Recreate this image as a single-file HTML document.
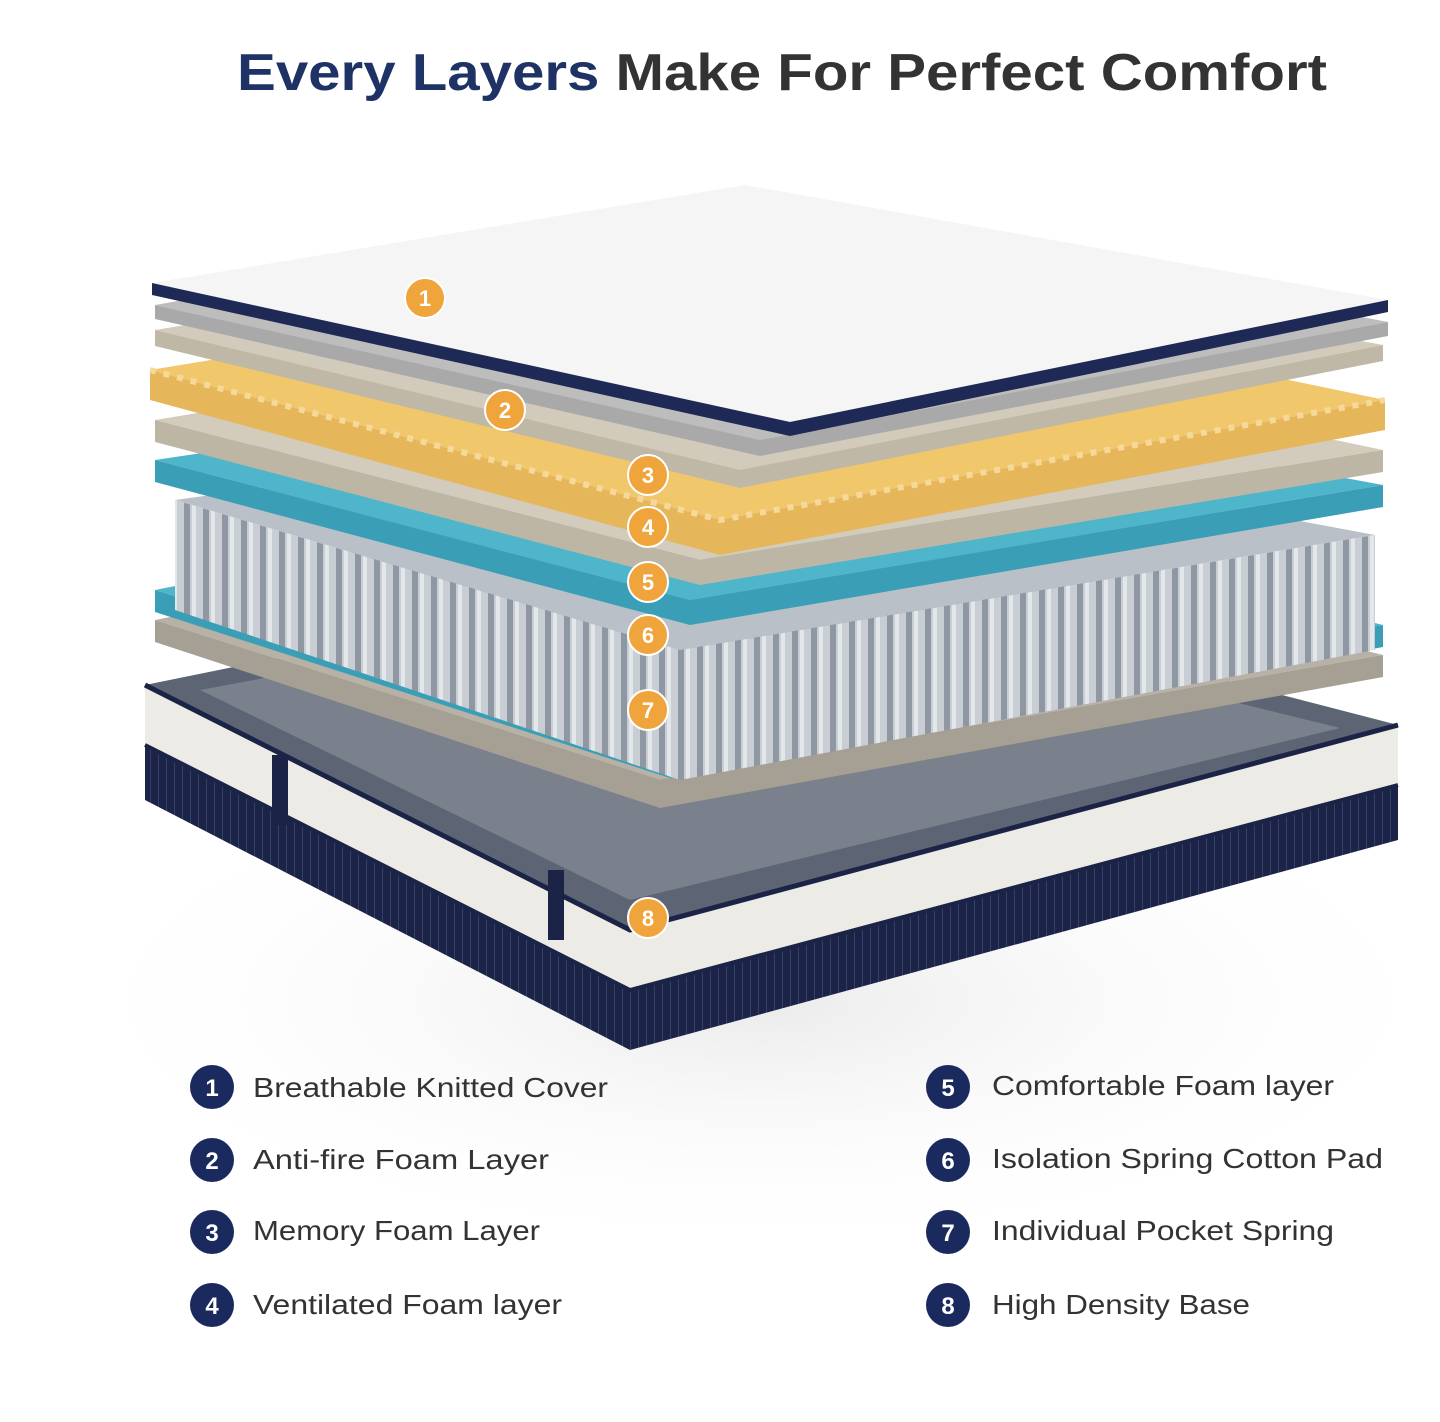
<!DOCTYPE html>
<html><head><meta charset="utf-8"><style>
html,body{margin:0;padding:0;background:#fff;}
svg{display:block;}
text{font-family:"Liberation Sans",sans-serif;}
</style></head><body>
<svg width="1440" height="1422" viewBox="0 0 1440 1422" xmlns="http://www.w3.org/2000/svg">
<defs>
<pattern id="spr" width="19" height="40" patternUnits="userSpaceOnUse">
<rect width="19" height="40" fill="#c9ced4"/>
<rect x="13" width="6" height="40" fill="#8f98a2"/>
<rect x="2" width="4" height="40" fill="#e4e7ea"/>
</pattern>
<pattern id="navy" width="8" height="10" patternUnits="userSpaceOnUse">
<rect width="8" height="10" fill="#1b2446"/><rect x="6" width="1" height="10" fill="#34406a"/>
</pattern>
<radialGradient id="sh" cx="0.5" cy="0.5" r="0.5"><stop offset="0" stop-color="#ddd"/><stop offset="1" stop-color="#fff" stop-opacity="0"/></radialGradient>
</defs>

<text x="782" y="90" text-anchor="middle" font-size="52" font-weight="bold" textLength="1090" lengthAdjust="spacingAndGlyphs"><tspan fill="#1e3266">Every Layers</tspan><tspan fill="#333"> Make For Perfect Comfort</tspan></text>

<ellipse cx="760" cy="1000" rx="720" ry="260" fill="url(#sh)" opacity="0.6"/>

<!-- base -->
<polygon points="145,685 760,560 1398,725 630,930" fill="#5d6474"/>
<polygon points="200,690 760,585 1340,728 630,900" fill="#7a808c"/>
<polygon points="145,685 630,930 1398,725 1398,840 630,1050 145,800" fill="#ecebe6"/>
<polygon points="145,745 630,990 1398,785 1398,840 630,1050 145,800" fill="url(#navy)"/>
<polyline points="145,685 630,930 1398,725" fill="none" stroke="#1b2446" stroke-width="5"/>
<polyline points="145,745 630,990 1398,785" fill="none" stroke="#1b2446" stroke-width="4"/>
<rect x="272" y="755" width="16" height="70" fill="#1b2446"/>
<rect x="548" y="870" width="16" height="70" fill="#1b2446"/>

<polygon points="155,620 760,500 1383,655 660,780" fill="#b7b1a6"/>
<polygon points="155,620 660,780 1383,655 1383,677 660,808 155,642" fill="#a59f94"/>
<polygon points="155,590 760,470 1383,625 670,750" fill="#4fb5cb"/>
<polygon points="155,590 670,750 1383,625 1383,647 670,778 155,612" fill="#3a9fb6"/>
<polygon points="175,500 760,420 1375,535 680,650" fill="#b9c0c7"/>
<polygon points="175,500 680,650 1375,535 1375,650 680,780 175,610" fill="url(#spr)"/>
<polygon points="155,460 760,370 1383,485 690,600" fill="#4fb5cb"/>
<polygon points="155,460 690,600 1383,485 1383,507 690,625 155,482" fill="#3a9fb6"/>
<polygon points="155,420 760,320 1383,450 700,560" fill="#d3ccbc"/>
<polygon points="155,420 700,560 1383,450 1383,472 700,585 155,442" fill="#bdb6a5"/>
<polygon points="150,370 760,270 1385,400 720,520" fill="#f1c76c"/>
<polygon points="150,370 720,520 1385,400 1385,430 720,555 150,400" fill="#e6b65a"/>
<polyline points="150,370 720,520 1385,400" fill="none" stroke="#f6d99a" stroke-width="6" stroke-dasharray="6 8"/>
<polygon points="155,330 760,230 1383,345 740,470" fill="#d2cbbb"/>
<polygon points="155,330 740,470 1383,345 1383,361 740,488 155,346" fill="#bfb8a7"/>
<polygon points="155,305 760,200 1388,322 760,440" fill="#bdbdbd"/>
<polygon points="155,305 760,440 1388,322 1388,336 760,456 155,319" fill="#a9a9a9"/>
<polygon points="152,283 745,185 1388,300 790,422" fill="#f5f5f5"/>
<polygon points="152,283 790,422 1388,300 1388,312 790,436 152,295" fill="#1e2a55"/>

<g font-size="22" font-weight="bold" fill="#fff" text-anchor="middle">
<g><circle cx="425" cy="298" r="20" fill="#f0a43c" stroke="#fff" stroke-width="2"/><text x="425" y="306">1</text></g>
<g><circle cx="505" cy="410" r="20" fill="#f0a43c" stroke="#fff" stroke-width="2"/><text x="505" y="418">2</text></g>
<g><circle cx="648" cy="475" r="20" fill="#f0a43c" stroke="#fff" stroke-width="2"/><text x="648" y="483">3</text></g>
<g><circle cx="648" cy="527" r="20" fill="#f0a43c" stroke="#fff" stroke-width="2"/><text x="648" y="535">4</text></g>
<g><circle cx="648" cy="582" r="20" fill="#f0a43c" stroke="#fff" stroke-width="2"/><text x="648" y="590">5</text></g>
<g><circle cx="648" cy="635" r="20" fill="#f0a43c" stroke="#fff" stroke-width="2"/><text x="648" y="643">6</text></g>
<g><circle cx="648" cy="710" r="20" fill="#f0a43c" stroke="#fff" stroke-width="2"/><text x="648" y="718">7</text></g>
<g><circle cx="648" cy="918" r="20" fill="#f0a43c" stroke="#fff" stroke-width="2"/><text x="648" y="926">8</text></g>
</g>

<g font-size="24" font-weight="bold" fill="#fff" text-anchor="middle">
<circle cx="212" cy="1087" r="22" fill="#1a2a5e"/><text x="212" y="1096">1</text>
<circle cx="212" cy="1160" r="22" fill="#1a2a5e"/><text x="212" y="1169">2</text>
<circle cx="212" cy="1232" r="22" fill="#1a2a5e"/><text x="212" y="1241">3</text>
<circle cx="212" cy="1305" r="22" fill="#1a2a5e"/><text x="212" y="1314">4</text>
<circle cx="948" cy="1087" r="22" fill="#1a2a5e"/><text x="948" y="1096">5</text>
<circle cx="948" cy="1160" r="22" fill="#1a2a5e"/><text x="948" y="1169">6</text>
<circle cx="948" cy="1232" r="22" fill="#1a2a5e"/><text x="948" y="1241">7</text>
<circle cx="948" cy="1305" r="22" fill="#1a2a5e"/><text x="948" y="1314">8</text>
</g>
<g font-size="28" fill="#333" lengthAdjust="spacingAndGlyphs">
<text x="253" y="1097" textLength="355" lengthAdjust="spacingAndGlyphs">Breathable Knitted Cover</text>
<text x="253" y="1169" textLength="296" lengthAdjust="spacingAndGlyphs">Anti-fire Foam Layer</text>
<text x="253" y="1240" textLength="287" lengthAdjust="spacingAndGlyphs">Memory Foam Layer</text>
<text x="253" y="1314" textLength="309" lengthAdjust="spacingAndGlyphs">Ventilated Foam layer</text>
<text x="992" y="1095" textLength="342" lengthAdjust="spacingAndGlyphs">Comfortable Foam layer</text>
<text x="992" y="1168" textLength="391" lengthAdjust="spacingAndGlyphs">Isolation Spring Cotton Pad</text>
<text x="992" y="1240" textLength="342" lengthAdjust="spacingAndGlyphs">Individual Pocket Spring</text>
<text x="992" y="1314" textLength="258" lengthAdjust="spacingAndGlyphs">High Density Base</text>
</g>
</svg>
</body></html>
